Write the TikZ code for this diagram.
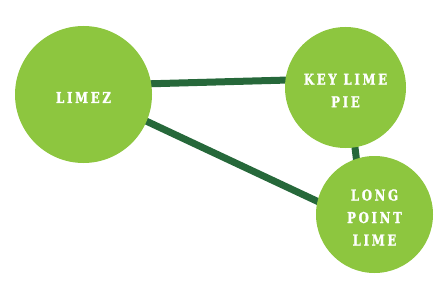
\documentclass[tikz,border=0pt]{standalone}
\usepackage{fontspec}
\usetikzlibrary{backgrounds}
\newfontfamily\labelfont[FakeStretch=0.78,LetterSpace=18,FakeBold=1.5]{DejaVu Serif}
\definecolor{limefill}{HTML}{8DC63F}
\definecolor{limeline}{HTML}{26683A}
\newcommand{\limetext}[1]{\raisebox{0pt}[\dimexpr\height+8pt\relax][\depth]{\begin{tabular}{@{}c@{}}#1\end{tabular}}}
\tikzset{
  lime/.style={circle,fill=limefill,text=white,inner sep=0pt,
    font={\labelfont\bfseries\fontsize{15}{22.5}\selectfont}},
  link/.style={draw=limeline,line width=7pt,shorten <=-4pt,shorten >=-4pt}
}
\begin{document}
\begin{tikzpicture}[x=1pt,y=1pt]
\useasboundingbox (0,0) rectangle (448,298);
\node[lime,minimum size=137pt] (limez) at (83.5,203.5) {\limetext{LIMEZ}};
\node[lime,minimum size=121pt] (klp) at (345.5,210.5) {\limetext{KEY LIME\\PIE}};
\node[lime,minimum size=117pt] (lpl) at (374.5,83.5) {\limetext{LONG\\POINT\\LIME}};
\begin{scope}[on background layer]
\draw[link] (limez.9) -- (klp.173);
\draw[link] (limez.-23) -- (lpl.167.5);
\draw[link] (klp.-81) -- (lpl.108.6);
\end{scope}
\end{tikzpicture}
\end{document}
